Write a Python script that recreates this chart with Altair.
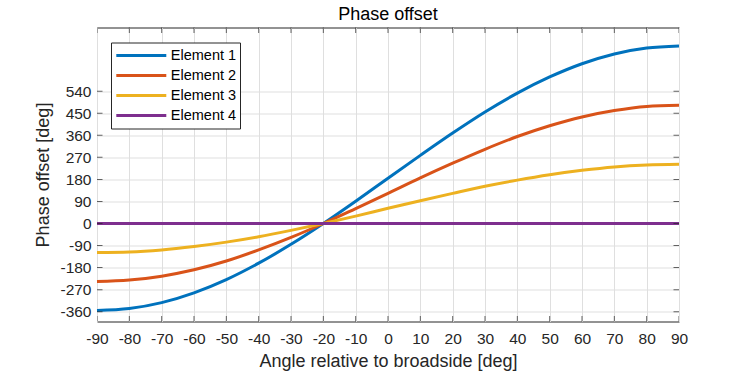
import altair as alt
import pandas as pd

# ---- data ----
angles = [-90, -80, -70, -60, -50, -40, -30, -20, -10, 0, 10, 20, 30, 40, 50, 60, 70, 80, 90]
element1 = [-355, -347, -323, -283, -229, -162, -85, 0, 91, 185, 278, 369, 455, 532, 598, 652, 692, 716, 725]
element2 = [-237, -231, -215, -189, -153, -108, -57, 0, 61, 123, 186, 246, 303, 355, 399, 435, 461, 478, 483]
element3 = [-118, -116, -108, -94, -76, -54, -28, 0, 30, 62, 93, 123, 152, 177, 199, 217, 231, 239, 242]
element4 = [0, 0, 0, 0, 0, 0, 0, 0, 0, 0, 0, 0, 0, 0, 0, 0, 0, 0, 0]

labels = ["Element 1", "Element 2", "Element 3", "Element 4"]
colors = ["#0072BD", "#D95319", "#EDB120", "#7E2F8E"]

x_ticks = [-90, -80, -70, -60, -50, -40, -30, -20, -10, 0, 10, 20, 30, 40, 50, 60, 70, 80, 90]
y_ticks = [-360, -270, -180, -90, 0, 90, 180, 270, 360, 450, 540]
x_limits = [-90, 90]
y_limits = [-400, 800]

# ---- tables ----
rows = []
for name, series in zip(labels, [element1, element2, element3, element4]):
    for a, v in zip(angles, series):
        rows.append({"angle": a, "phase": v, "element": name})
df = pd.DataFrame(rows)

vt = pd.DataFrame(
    [{"angle": a, "phase": y_limits[0]} for a in x_ticks]
    + [{"angle": a, "phase": y_limits[1]} for a in x_ticks]
)
ht = pd.DataFrame(
    [{"angle": x_limits[0], "phase": v} for v in y_ticks]
    + [{"angle": x_limits[1], "phase": v} for v in y_ticks]
)

FONT = "Liberation Sans"
INK = "#262626"

xscale = alt.Scale(domain=x_limits, nice=False, zero=False)
yscale = alt.Scale(domain=y_limits, nice=False, zero=False)

axis_common = dict(
    grid=True, gridColor="#dfdfdf", gridWidth=1, domain=False, ticks=False,
    labelOverlap=False, labelFlush=False, labelFont=FONT, labelFontSize=15.5,
    labelColor=INK, labelExpr="'' + datum.value",
    titleFont=FONT, titleFontSize=18, titleFontWeight="normal", titleColor=INK,
)
x_axis = alt.Axis(values=x_ticks, title="Angle relative to broadside [deg]",
                  labelPadding=10, titlePadding=5, **axis_common)
y_axis = alt.Axis(values=y_ticks, title="Phase offset [deg]",
                  labelPadding=6, titlePadding=7, **axis_common)

X = alt.X("angle:Q", scale=xscale, axis=x_axis)
Y = alt.Y("phase:Q", scale=yscale, axis=y_axis)

lines = alt.Chart(df).mark_line(strokeWidth=3, interpolate="monotone").encode(
    x=X, y=Y,
    color=alt.Color(
        "element:N",
        scale=alt.Scale(domain=labels, range=colors),
        legend=alt.Legend(
            title=None, orient="none", legendX=14, legendY=15,
            strokeColor=INK, fillColor="white", padding=3,
            symbolType="stroke", symbolSize=2500, symbolStrokeWidth=3,
            clipHeight=20, rowPadding=0, symbolOffset=0.8, labelOffset=3,
            labelFontSize=14.5, labelFont=FONT, labelColor="#000000",
        ),
    ),
)

vticks = alt.Chart(vt).mark_tick(orient="vertical", size=11, thickness=1, color=INK, clip=True).encode(
    x=X, y=Y
)
hticks = alt.Chart(ht).mark_tick(orient="horizontal", size=11, thickness=1, color=INK, clip=True).encode(
    x=X, y=Y
)

chart = (
    alt.layer(lines, vticks, hticks)
    .properties(
        width=582, height=294,
        title=alt.TitleParams("Phase offset", fontSize=18, fontWeight="normal",
                              color="#000000", font=FONT, offset=4),
        padding={"left": 97, "top": 27.5, "right": 71, "bottom": 53.5},
        autosize="none",
    )
    .configure_view(stroke=INK, strokeWidth=1)
)

chart.save("out.html", embed_options={"renderer": "svg", "actions": False})
